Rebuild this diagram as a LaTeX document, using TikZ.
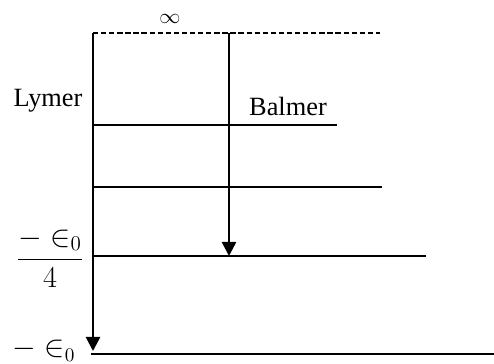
\documentclass[tikz,border=0pt]{standalone}
\usepackage{amsmath,amssymb}
\usepackage{fontspec}
\setmainfont{Liberation Serif}
\usepackage{tikz}
\usetikzlibrary{arrows.meta}
\begin{document}
\begin{tikzpicture}[x=0.02cm, y=-0.02cm,
    level/.style={line width=1.4pt},
    trans/.style={line width=1.4pt, -{Triangle[length=8pt, width=8pt]}},
    lbl/.style={font=\fontsize{15}{18}\selectfont, inner sep=0pt}]
        \useasboundingbox (0,0) rectangle (494,363);
        %TINGKAT ENERGI
        \coordinate (infL) at (93,33);   \coordinate (infR) at (380,33);
        \coordinate (fourL) at (93,125); \coordinate (fourR) at (337,125);
        \coordinate (threeL) at (93,187); \coordinate (threeR) at (382,187);
        \coordinate (twoL) at (93,256);  \coordinate (twoR) at (426,256);
        \coordinate (oneL) at (91,354);  \coordinate (oneR) at (494,354);
        \draw[level, dash pattern=on 3pt off 1.6pt] (infL) -- (infR);
        \draw[level] (fourL) -- (fourR);
        \draw[level] (threeL) -- (threeR);
        \draw[level] (twoL) -- (twoR);
        \draw[level] (oneL) -- (oneR);
        %DERET LYMER
        \coordinate (lyTop) at (93,33); \coordinate (lyEnd) at (93,351);
        \draw[trans] (lyTop) -- (lyEnd);
        %DERET BALMER
        \coordinate (baTop) at (229,33); \coordinate (baEnd) at (229,256);
        \draw[trans] (baTop) -- (baEnd);
        %LABEL
        \node[lbl, font=\fontsize{12}{14}\selectfont] (inf) at (170,19) {$\infty$};
        \node[lbl] (lymer) at (48,101) {Lymer};
        \node[lbl] (balmer) at (288,106) {Balmer};
        \node[lbl, font=\fontsize{17}{20}\selectfont] (halfE) at (50,258) {$\dfrac{-\in_0}{4}$};
        \node[lbl, font=\fontsize{16}{19}\selectfont] (fullE) at (44,350) {$-\in_0$};
    \end{tikzpicture}
\end{document}
